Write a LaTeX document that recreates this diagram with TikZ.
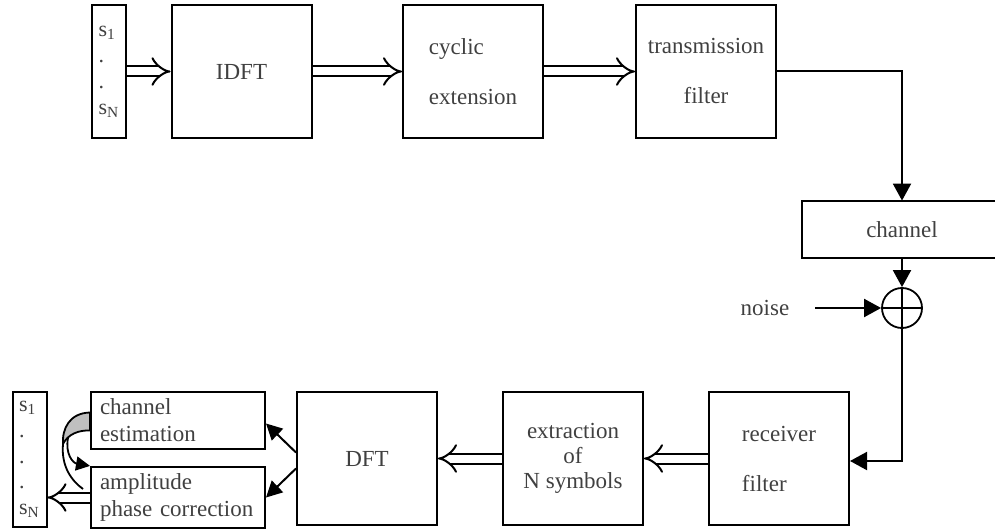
\documentclass[tikz,border=0pt]{standalone}
\usepackage{fontspec}
\setmainfont{Liberation Serif}
\usetikzlibrary{calc, positioning, arrows.meta}

\begin{document}
\begin{tikzpicture}[
        x=0.5pt, y=-0.5pt,
        every node/.style={text=black!75, font=\fontsize{11.5}{13}\selectfont},
        blk/.style={rectangle, draw=black, line width=1pt, minimum width=70pt,
            minimum height=66.5pt, inner sep=2pt, align=center},
        wide/.style={blk, font=\fontsize{11.5}{25}\selectfont},
        sbox/.style={rectangle, draw=black, line width=1pt, minimum width=17pt,
            inner sep=2pt, align=left, font=\fontsize{11}{13}\selectfont},
        slim/.style={rectangle, draw=black, line width=1pt, minimum width=87pt,
            text width=78pt, inner xsep=4.5pt, align=left,
            font=\fontsize{11.5}{13.5}\selectfont},
        dbl/.style={draw=black, double, double distance=4pt, line width=1pt,
            -{Implies[length=6.5pt, width=11pt]}},
        sig/.style={draw=black, line width=1pt, -{Triangle[length=8.5pt, width=9pt]}},
        sigs/.style={draw=black, line width=1pt, -{Triangle[length=8pt, width=8pt]}}
    ]
    \useasboundingbox (0,0) rectangle (995,529);

    % transmitter
    \node [sbox, minimum height=66.5pt] (sin) at (109,71.5) {s\textsubscript{1}\\.\\.\\s\textsubscript{N}};
    \node [blk] (idft) at (241.5,71.5) {IDFT};
    \node [wide, align=left] (cyc) at (473,71.5) {cyclic\\extension};
    \node [wide] (tf) at (706,71.5) {transmission\\filter};

    % channel and noise
    \node [minimum width=100pt, minimum height=28.5pt, inner sep=0pt] (chan) at (902,229.5) {channel};
    \draw [line width=1pt] (chan.north east) -- (chan.north west) -- (chan.south west) -- (chan.south east);
    \node [circle, draw=black, line width=0.9pt, minimum size=20pt, inner sep=0pt] (add) at (902,308) {};
    \draw [line width=0.9pt] (add.north) -- (add.south) (add.west) -- (add.east);
    \node (noise) at (765,308) {noise};
    \coordinate (nz) at (815,308);

    % receiver
    \node [wide, align=left] (rx) at (779,458.5) {receiver\\filter};
    \node [blk, font=\fontsize{11.5}{12.5}\selectfont] (ext) at (573,458.5) {extraction\\of\\N symbols};
    \node [blk] (dft) at (367,458.5) {DFT};
    \node [slim, minimum height=28.5pt] (chest) at (178,420.5) {channel\\estimation};
    \node [slim, minimum height=29.5pt] (amp) at (178,497.5) {amplitude\\phase correction};
    \node [sbox, minimum height=67.5pt, font=\fontsize{11}{12.9}\selectfont] (sout) at (29.5,459.5) {s\textsubscript{1}\\.\\.\\.\\s\textsubscript{N}};

    \draw [dbl] (sin) -- (idft);
    \draw [dbl] (idft) -- (cyc);
    \draw [dbl] (cyc) -- (tf);
    \draw [sig] (tf.east) -| (chan.north);
    \draw [sig] (chan.south) -- (add.north);
    \draw [sig] (nz) -- (add.west);
    \draw [sig] (add.south) |- ($(rx.east)+(0,2.5)$);
    \draw [dbl] (rx) -- (ext);
    \draw [dbl] (ext) -- (dft);
    \draw [sigs] ($(dft.west)+(0,-6)$) -- ($(chest.east)+(0,3)$);
    \draw [sigs] ($(dft.west)+(0,10)$) -- (amp.east);
    \draw [dbl] (amp.west) -- (amp.west -| sout.east);

    % estimate feeds the correction
    \filldraw [fill=black!25, draw=black, line width=0.9pt]
        ($(chest.west)+(0,-8)$) .. controls (70,413) and (62,428) .. (63,444)
        .. controls (68,434) and (79,430) .. ($(chest.west)+(0,10)$) -- cycle;
    \draw [line width=0.9pt] (63,444) .. controls (61,467) and (72,481) .. (83,489);
    \draw [line width=0.9pt, -{Triangle[length=7pt, width=7pt]}]
        (68,438) .. controls (65,454) and (73,463) .. (amp.north west);
\end{tikzpicture}
\end{document}
